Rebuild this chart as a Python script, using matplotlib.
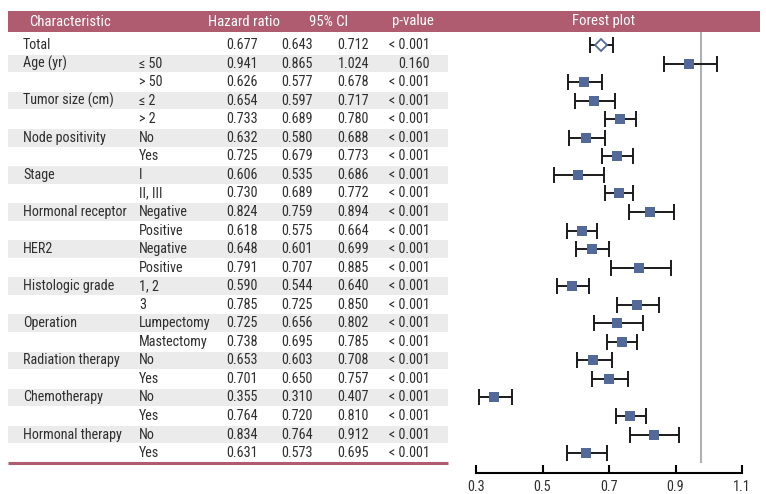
import matplotlib
matplotlib.use("Agg")
import matplotlib.pyplot as plt
from matplotlib.patches import Rectangle
from matplotlib import font_manager
from matplotlib.font_manager import FontProperties
from matplotlib.textpath import TextPath

# ---------------- data ----------------
characteristics = ["Total", "Age (yr)", "", "Tumor size (cm)", "", "Node positivity", "",
                   "Stage", "", "Hormonal receptor", "", "HER2", "", "Histologic grade", "",
                   "Operation", "", "Radiation therapy", "", "Chemotherapy", "",
                   "Hormonal therapy", ""]
subgroups = ["", "\u2264 50", "> 50", "\u2264 2", "> 2", "No", "Yes", "I", "II, III",
             "Negative", "Positive", "Negative", "Positive", "1, 2", "3",
             "Lumpectomy", "Mastectomy", "No", "Yes", "No", "Yes", "No", "Yes"]
hazard_ratio = [0.677, 0.941, 0.626, 0.654, 0.733, 0.632, 0.725, 0.606, 0.730, 0.824, 0.618,
                0.648, 0.791, 0.590, 0.785, 0.725, 0.738, 0.653, 0.701, 0.355, 0.764, 0.834, 0.631]
ci_lower = [0.643, 0.865, 0.577, 0.597, 0.689, 0.580, 0.679, 0.535, 0.689, 0.759, 0.575,
            0.601, 0.707, 0.544, 0.725, 0.656, 0.695, 0.603, 0.650, 0.310, 0.720, 0.764, 0.573]
ci_upper = [0.712, 1.024, 0.678, 0.717, 0.780, 0.688, 0.773, 0.686, 0.772, 0.894, 0.664,
            0.699, 0.885, 0.640, 0.850, 0.802, 0.785, 0.708, 0.757, 0.407, 0.810, 0.912, 0.695]
p_values = ["< 0.001", "0.160"] + ["< 0.001"] * 21
headers = ["Characteristic", "Hazard ratio", "95% CI", "p-value", "Forest plot"]
x_ticks = [0.3, 0.5, 0.7, 0.9, 1.1]
ref_line = 0.977

# ---------------- font: pick the narrowest regular face ----------------
def narrowness(fname):
    try:
        p = FontProperties(fname=fname)
        w = TextPath((0, 0), "Hormonal receptor", prop=p, size=100).get_extents().width
        h = TextPath((0, 0), "H", prop=p, size=100).get_extents().height
        return w / h
    except Exception:
        return None

target = 101.0 / 10.0   # width of "Hormonal receptor" / cap height in the reference
best, best_err = None, None
seen = set()
for f in font_manager.fontManager.ttflist:
    if f.fname in seen or f.style != "normal":
        continue
    seen.add(f.fname)
    if f.weight not in (400, "normal", "regular", "book"):
        continue
    if not any(k in f.name for k in ("Liberation", "Roboto", "Open Sans", "Noto Sans",
                                     "Lato", "Inter", "DejaVu")):
        continue
    if "CJK" in f.name or "Mono" in f.name:
        continue
    r = narrowness(f.fname)
    if r is None:
        continue
    err = abs(r - target)
    if best_err is None or err < best_err:
        best, best_err = f, err

fp = FontProperties(fname=best.fname) if best is not None else FontProperties(family="Liberation Sans")

# size so that cap height ~ 10 px
cap = TextPath((0, 0), "H", prop=fp, size=100).get_extents().height / 100.0
fs = 10.0 / cap * 72 / 100     # points
fs_h = fs * 1.05

W, H = 766, 494
header_col = "#B05C70"
band_col = "#EBEBEB"
text_col = "#2E2E2E"
mark_col = "#52699A"

fig = plt.figure(figsize=(W / 100, H / 100), dpi=100)
ax = fig.add_axes([0, 0, 1, 1])
ax.set_xlim(0, W)
ax.set_ylim(H, 0)
ax.axis("off")

row_y0, row_dy = 45.0, 18.55
n = len(hazard_ratio)

def txt(x, y, s, size, color, ha):
    t = ax.text(x, y, s, fontproperties=fp, color=color, va="center", ha=ha)
    t.set_fontsize(size)
    return t

# header band
ax.add_patch(Rectangle((8, 11), 752, 21, color=header_col, lw=0))
txt(29, 21.5, headers[0], fs_h, "white", "left")
txt(244, 21.5, headers[1], fs_h, "white", "center")
txt(329, 21.5, headers[2], fs_h, "white", "center")
txt(413, 21.5, headers[3], fs_h, "white", "center")
txt(603, 21.5, headers[4], fs_h, "white", "center")

for i in range(n):
    y = row_y0 + row_dy * i
    if characteristics[i] and i > 0:
        ax.add_patch(Rectangle((8, y - row_dy / 2 + 0.5), 440, row_dy - 1, color=band_col, lw=0))
    txt(23, y, characteristics[i], fs, text_col, "left")
    txt(139, y, subgroups[i], fs, text_col, "left")
    txt(258, y, f"{hazard_ratio[i]:.3f}", fs, text_col, "right")
    txt(313, y, f"{ci_lower[i]:.3f}", fs, text_col, "right")
    txt(369, y, f"{ci_upper[i]:.3f}", fs, text_col, "right")
    txt(430, y, p_values[i], fs, text_col, "right")

# bottom rule
ax.plot([8, 448], [463, 463], color=header_col, lw=2.2, solid_capstyle="butt")

# ---------------- forest plot ----------------
top_px, bot_px = 32, 473
axf = fig.add_axes([476 / W, 1 - bot_px / H, (742 - 476) / W, (bot_px - top_px) / H])
axf.set_xlim(x_ticks[0], x_ticks[-1])
axf.set_ylim((bot_px - row_y0) / row_dy, (top_px - row_y0) / row_dy)
axf.patch.set_alpha(0)
for s in ["top", "right", "left"]:
    axf.spines[s].set_visible(False)
axf.spines["bottom"].set_linewidth(1.5)
axf.set_yticks([])
axf.set_xticks(x_ticks)
axf.set_xticklabels([f"{t:.1f}" for t in x_ticks])
axf.tick_params(axis="x", direction="in", length=6, width=1.5, labelcolor=text_col, pad=5)
for lab in axf.get_xticklabels():
    lab.set_fontproperties(fp)
    lab.set_fontsize(fs)

axf.axvline(ref_line, ymin=(bot_px - 462) / (bot_px - top_px), ymax=1,
            color="#B0B0B0", lw=1.5, zorder=1)

rows = list(range(n))
xerr = [[hazard_ratio[i] - ci_lower[i] for i in rows], [ci_upper[i] - hazard_ratio[i] for i in rows]]
axf.errorbar(hazard_ratio, rows, xerr=xerr, fmt="none", ecolor="#1a1a1a",
             elinewidth=1.4, capsize=5.5, capthick=1.4, zorder=2)
axf.plot(hazard_ratio[1:], rows[1:], "s", color=mark_col, markersize=7.2, zorder=3, mew=0)
axf.plot(hazard_ratio[:1], rows[:1], "D", mfc="white", mec=mark_col, markersize=6.5,
         mew=1.3, zorder=3)

fig.savefig("out.png", dpi=100)
